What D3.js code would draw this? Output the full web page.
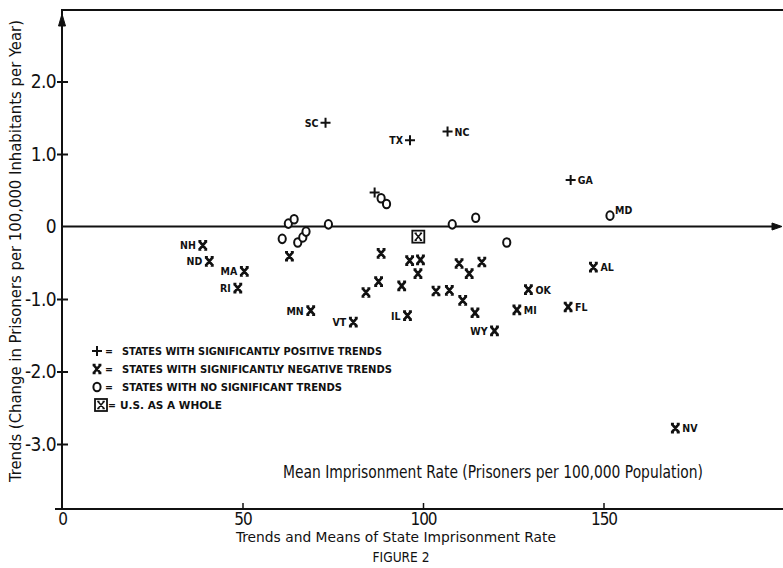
<!DOCTYPE html>
<html>
<head>
<meta charset="utf-8">
<script src="https://cdn.jsdelivr.net/npm/d3@7"></script>
<style>
  body { margin: 0; background: #fff; }
  svg { display: block; }
  text { font-family: "DejaVu Sans Condensed", "DejaVu Sans", sans-serif; fill: #111; }
  .lbl { font-weight: bold; font-size: 10.5px; }
  .leg { font-weight: bold; font-size: 10.5px; }
</style>
</head>
<body>
<svg id="chart" width="783" height="568"></svg>
<script>
"use strict";
// ---- data ----
// states with significantly positive trends (+)
var posLabels = ["SC", "TX", "NC", "", "GA"];
var posMean   = [73.0, 96.4, 106.8, 86.6, 140.9];
var posTrend  = [1.43, 1.19, 1.31, 0.47, 0.64];

// states with significantly negative trends (X)
var negLabels = ["NH", "ND", "MA", "RI", "MN", "VT", "IL", "", "", "", "", "", "", "", "",
                 "", "", "", "", "", "", "", "WY", "OK", "MI", "FL", "AL", "NV"];
var negMean   = [39.0, 40.8, 50.5, 48.7, 68.9, 80.7, 95.7, 63.0, 88.4, 96.3, 99.3, 98.6, 87.7, 94.1, 84.2,
                 103.6, 107.3, 110.0, 112.8, 116.3, 111.0, 114.4, 119.8, 129.2, 126.0, 140.2, 147.2, 169.9];
var negTrend  = [-0.26, -0.48, -0.62, -0.85, -1.16, -1.32, -1.23, -0.41, -0.37, -0.47, -0.46, -0.65, -0.76, -0.82, -0.91,
                 -0.89, -0.88, -0.51, -0.65, -0.49, -1.02, -1.19, -1.44, -0.87, -1.15, -1.11, -0.56, -2.78];

// states with no significant trends (O)
var noneLabels = ["", "", "", "", "", "", "", "", "", "", "", "", "MD"];
var noneMean   = [62.7, 64.3, 61.0, 65.3, 66.7, 67.6, 73.8, 88.4, 89.9, 108.1, 114.6, 123.2, 151.8];
var noneTrend  = [0.04, 0.10, -0.17, -0.22, -0.15, -0.07, 0.03, 0.39, 0.31, 0.03, 0.12, -0.22, 0.15];

// U.S. as a whole
var usMean = [98.7];
var usTrend = [-0.14];

var yTickValues = [2, 1, 0, -1, -2, -3];
var yTickLabels = ["2.0", "1.0", "0", "-1.0", "-2.0", "-3.0"];
var xTickValues = [0, 50, 100, 150];
var xTickLabels = ["0", "50", "100", "150"];

var legendItems = [
  {sym: "plus",  text: "STATES WITH SIGNIFICANTLY POSITIVE TRENDS"},
  {sym: "cross", text: "STATES WITH SIGNIFICANTLY NEGATIVE TRENDS"},
  {sym: "ring",  text: "STATES WITH  NO SIGNIFICANT TRENDS"},
  {sym: "box",   text: "U.S.  AS  A WHOLE"}
];
var labelLeft = ["NH", "ND", "MA", "RI", "MN", "VT", "IL", "WY", "SC", "TX"];

// ---- layout ----
var padL = 62, padR = 783, padT = 10, padB = 509;
var x = d3.scaleLinear().domain([0, 200]).range([padL, padL + 722]);
var y = d3.scaleLinear().domain([0, 1]).range([226.5, 154]);

var svg = d3.select("#chart");

// marker shapes
var crossPath = "M-3.3,-4L3.3,4M3.3,-4L-3.3,4M-4.4,-4H-1.4M1.4,-4H4.4M-4.4,4H-1.4M1.4,4H4.4";
var plusPath = "M-5,0H5M0,-5V5";

function drawMarker(g, sym) {
  if (sym == "plus") {
    g.append("path").attr("d", plusPath).attr("stroke", "#111").attr("stroke-width", 2).attr("fill", "none");
  } else if (sym == "cross") {
    g.append("path").attr("d", crossPath).attr("stroke", "#111").attr("stroke-width", 2.7).attr("fill", "none");
  } else if (sym == "ring") {
    g.append("ellipse").attr("rx", 3.6).attr("ry", 4.3)
      .attr("stroke", "#111").attr("stroke-width", 2).attr("fill", "#fff");
  } else if (sym == "box") {
    g.append("rect").attr("x", -6).attr("y", -6).attr("width", 12).attr("height", 12)
      .attr("stroke", "#111").attr("stroke-width", 1.8).attr("fill", "#fff");
    g.append("path").attr("d", "M-3,-3.5L3,3.5M3,-3.5L-3,3.5M-3.8,-3.5H-1.5M1.5,-3.5H3.8M-3.8,3.5H-1.5M1.5,3.5H3.8")
      .attr("stroke", "#111").attr("stroke-width", 1.5).attr("fill", "none");
  }
}

// ---- axes frame ----
var frame = svg.append("g").attr("stroke", "#111").attr("stroke-width", 2).attr("fill", "none");
frame.append("line").attr("x1", padL).attr("x2", padL).attr("y1", padT).attr("y2", padB);
frame.append("line").attr("x1", padL - 1).attr("x2", padR).attr("y1", padT).attr("y2", padT);
frame.append("path").attr("d", "M" + padL + ",14L" + (padL - 3.5) + ",26L" + (padL + 3.5) + ",26Z")
  .attr("fill", "#111").attr("stroke-width", 1);
// zero line with arrow
frame.append("line").attr("x1", padL).attr("x2", 779).attr("y1", y(0)).attr("y2", y(0));
frame.append("path").attr("d", "M782," + y(0) + "L772," + (y(0) - 3.5) + "L772," + (y(0) + 3.5) + "Z")
  .attr("fill", "#111").attr("stroke-width", 1);

// y axis
var yAxis = d3.axisLeft(y).tickValues(yTickValues)
  .tickFormat(function(d, i) { return yTickLabels[i]; })
  .tickSize(5).tickPadding(3);
var gy = svg.append("g").attr("transform", "translate(" + padL + ",0)").call(yAxis);
gy.select(".domain").remove();
gy.selectAll(".tick line").attr("x1", 6).attr("x2", -5).attr("stroke", "#111").attr("stroke-width", 2);
gy.selectAll(".tick").filter(function(d) { return d == 0; }).select("line").remove();
gy.selectAll(".tick text").attr("font-size", 19).attr("font-family", null).attr("x", -6)
  .attr("letter-spacing", -0.6);

// x axis
var xAxis = d3.axisBottom(x).tickValues(xTickValues)
  .tickFormat(function(d, i) { return xTickLabels[i]; })
  .tickSize(0).tickPadding(4);
var gx = svg.append("g").attr("transform", "translate(0," + padB + ")").call(xAxis);
gx.select(".domain").attr("d", "M" + (padL - 7) + ",0H" + padR).attr("stroke", "#111").attr("stroke-width", 2);
gx.selectAll(".tick").filter(function(d) { return d > 0; }).append("line")
  .attr("y1", 0).attr("y2", -6).attr("stroke", "#111").attr("stroke-width", 1.5);
gx.selectAll(".tick text").attr("font-size", 17).attr("font-family", null).attr("letter-spacing", -1);

// ---- points ----
function plotGroup(labels, means, trends, sym) {
  var data = means.map(function(m, i) { return {label: labels[i], x: m, y: trends[i]}; });
  var g = svg.append("g").selectAll("g").data(data).enter().append("g")
    .attr("transform", function(d) { return "translate(" + x(d.x) + "," + y(d.y) + ")"; });
  g.each(function() { drawMarker(d3.select(this), sym); });
  g.filter(function(d) { return d.label != ""; }).append("text")
    .attr("class", "lbl")
    .attr("x", function(d) {
      if (d.label == "MD") return 5;
      return labelLeft.indexOf(d.label) >= 0 ? -7 : 7;
    })
    .attr("y", function(d) { return d.label == "MD" ? -1.5 : 4; })
    .attr("text-anchor", function(d) { return labelLeft.indexOf(d.label) >= 0 ? "end" : "start"; })
    .text(function(d) { return d.label; });
}
plotGroup(noneLabels, noneMean, noneTrend, "ring");
plotGroup(negLabels, negMean, negTrend, "cross");
plotGroup(posLabels, posMean, posTrend, "plus");
plotGroup([""], usMean, usTrend, "box");

// ---- legend ----
var leg = svg.append("g").selectAll("g").data(legendItems).enter().append("g")
  .attr("transform", function(d, i) { return "translate(97," + (351 + i * 18) + ")"; });
leg.each(function(d) {
  var g = d3.select(this);
  if (d.sym == "box") { g.attr("transform", "translate(101,405)"); }
  drawMarker(g, d.sym);
});
leg.append("text").attr("class", "leg").attr("x", function(d) { return d.sym == "box" ? 7 : 8; })
  .attr("y", 4).text("=");
var legLen = [260, 270, 220, 102];
leg.append("text").attr("class", "leg")
  .attr("x", function(d) { return d.sym == "box" ? 19 : 25; }).attr("y", 4)
  .attr("textLength", function(d, i) { return legLen[i]; })
  .attr("lengthAdjust", "spacingAndGlyphs")
  .text(function(d) { return d.text; });

// ---- titles ----
svg.append("text").attr("x", 283).attr("y", 478).attr("font-size", 17)
  .attr("textLength", 420).attr("lengthAdjust", "spacingAndGlyphs")
  .text("Mean Imprisonment Rate (Prisoners per 100,000 Population)");

svg.append("text").attr("transform", "translate(21,251) rotate(-90)")
  .attr("text-anchor", "middle").attr("font-size", 15.5)
  .attr("textLength", 462).attr("lengthAdjust", "spacingAndGlyphs")
  .text("Trends (Change in Prisoners per 100,000 Inhabitants per Year)");

svg.append("text").attr("x", 396).attr("y", 542).attr("text-anchor", "middle").attr("font-size", 14.5)
  .attr("textLength", 320).attr("lengthAdjust", "spacingAndGlyphs")
  .text("Trends and Means of State Imprisonment Rate");

svg.append("text").attr("x", 401).attr("y", 562).attr("text-anchor", "middle").attr("font-size", 13.5)
  .attr("textLength", 57).attr("lengthAdjust", "spacingAndGlyphs")
  .text("FIGURE 2");
</script>
</body>
</html>
